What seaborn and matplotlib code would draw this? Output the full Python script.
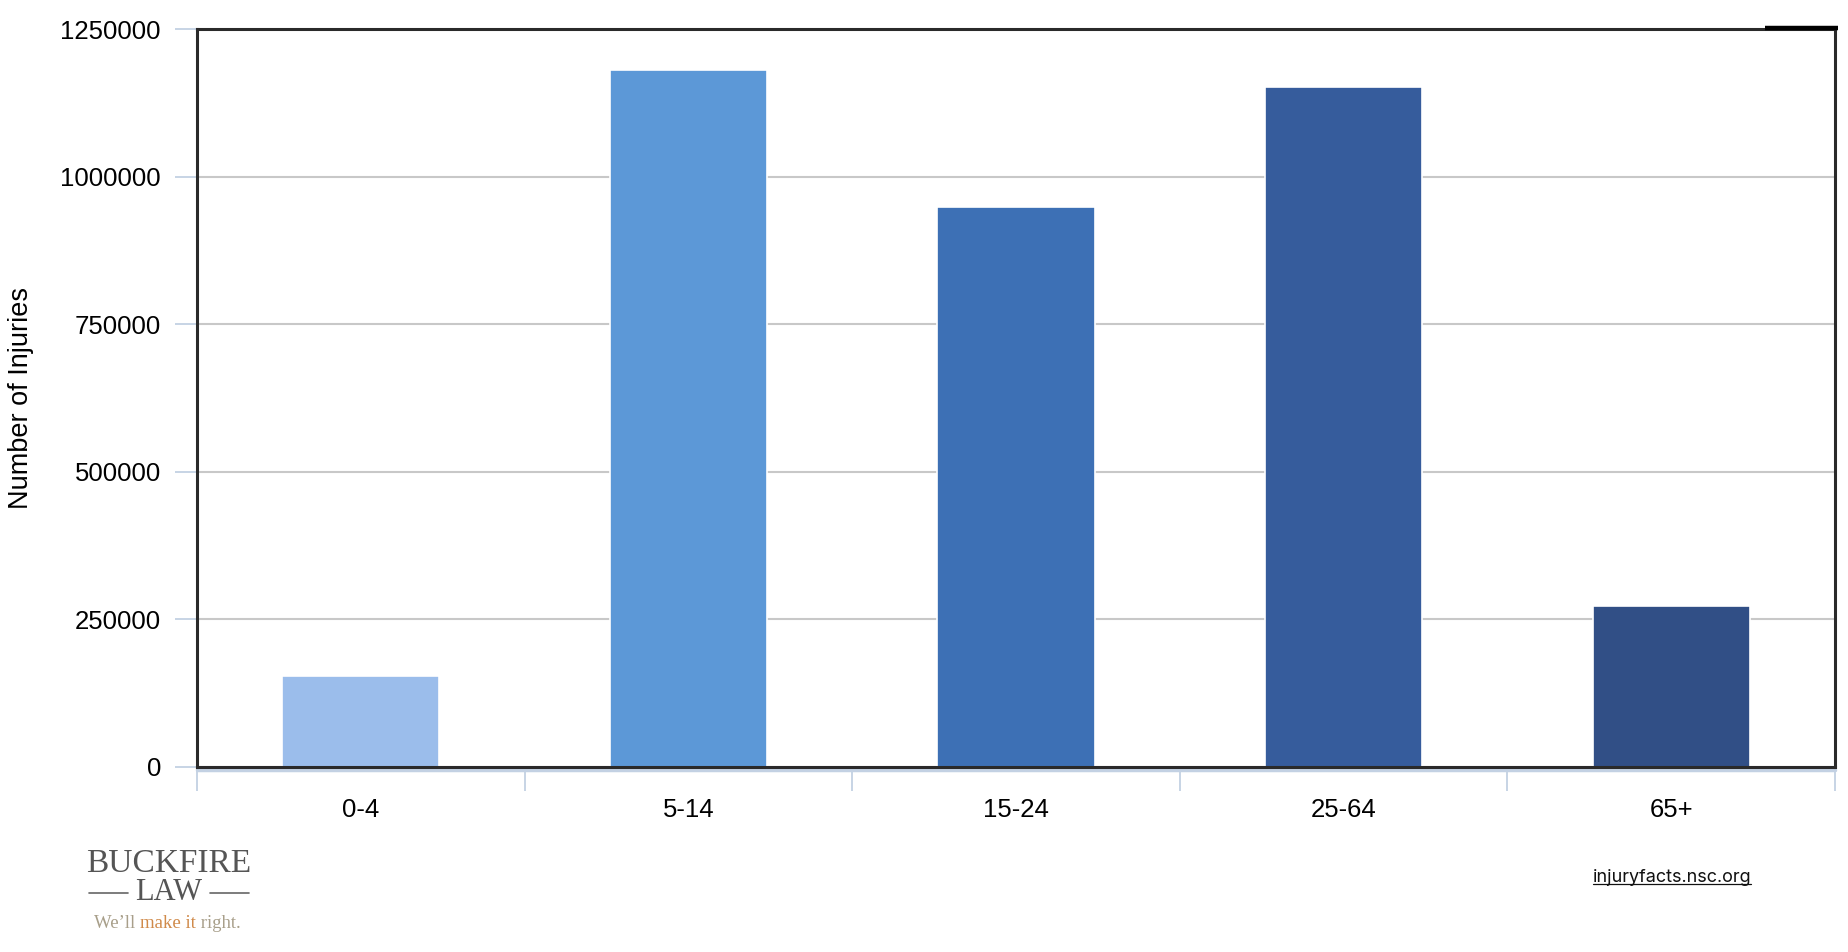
import numpy as np
import matplotlib
matplotlib.use("Agg")
import matplotlib.pyplot as plt
import seaborn as sns
from matplotlib.lines import Line2D

# data
age_groups = ["0-4", "5-14", "15-24", "25-64", "65+"]
injuries = [154000, 1180000, 948000, 1152000, 273000]
bar_colors = ["#9BBDEB", "#5C98D7", "#3D70B5", "#365C9C", "#314F86"]
y_ticks = [0, 250000, 500000, 750000, 1000000, 1250000]

sns.set_theme(style="white")
plt.rcParams["font.family"] = ["Liberation Sans", "DejaVu Sans"]

W, H = 1848, 952
fig = plt.figure(figsize=(W / 100, H / 100), dpi=100)
ax = fig.add_axes([197 / W, 1 - 767 / H, (1835 - 197) / W, (767 - 29) / H])

sns.barplot(x=age_groups, y=injuries, hue=age_groups, palette=bar_colors,
            width=0.48, saturation=1, legend=False, edgecolor="white",
            linewidth=1.2, ax=ax, zorder=3)

ax.set_xlim(-0.5, len(age_groups) - 0.5)
ax.set_ylim(0, 1250000)
ax.set_yticks(y_ticks)
ax.set_yticklabels([str(v) for v in y_ticks])
ax.yaxis.grid(True, color="#c8c8c8", lw=1.5, zorder=0)
ax.xaxis.grid(False)
ax.set_axisbelow(True)

# category boundary ticks (unlabelled) + centred labels
ax.set_xticks(np.arange(-0.5, len(age_groups)), minor=False)
ax.set_xticklabels([""] * (len(age_groups) + 1))
ax.set_xticks(np.arange(len(age_groups)), minor=True)
ax.set_xticklabels(age_groups, minor=True)
ax.tick_params(axis="x", which="major", direction="out", length=17, width=1.3,
               color="#c3d1e3", bottom=True)
ax.tick_params(axis="x", which="minor", length=0, pad=22, labelsize=18.5,
               labelcolor="black")
ax.tick_params(axis="y", direction="out", length=16, width=1.3, color="#c3d1e3",
               pad=10, labelsize=18.5, labelcolor="black", left=True)

for side in ["left", "right", "top", "bottom"]:
    ax.spines[side].set_visible(True)
    ax.spines[side].set_color("#2a2a2a")
    ax.spines[side].set_linewidth(2.2)
    ax.spines[side].set_zorder(5)

# light axis line just under the bottom spine
ax.plot([0, 1], [-0.004, -0.004], transform=ax.transAxes, color="#c3d1e3",
        lw=2.5, clip_on=False, zorder=4)
# small thick corner segment at top right
ax.plot([0.957, 1.002], [1.002, 1.002], transform=ax.transAxes, color="black",
        lw=3.2, clip_on=False, zorder=6, solid_capstyle="butt")

ax.set_xlabel("")
ax.set_ylabel("Number of Injuries", fontsize=19.5, color="black")
ax.yaxis.label.set_va("center")
ax.yaxis.set_label_coords((21 - 197) / (1835 - 197), 0.5)

# logo
serif = ["Liberation Serif", "DejaVu Serif"]
fig.text(169 / W, 1 - 864 / H, "BUCKFIRE", family=serif, fontsize=24,
         color="#555555", ha="center", va="center")
fig.text(169 / W, 1 - 893 / H, "LAW", family=serif, fontsize=22,
         color="#555555", ha="center", va="center")
for x0, x1 in [(89, 128), (210, 249)]:
    fig.add_artist(Line2D([x0 / W, x1 / W], [1 - 893 / H, 1 - 893 / H],
                          color="#666666", lw=1.2))
t1 = fig.text(94 / W, 1 - 924 / H, "We\u2019ll ", family=serif, fontsize=13.5,
              color="#a89f8a", ha="left", va="center")
t2 = ax.annotate("make it", xy=(1, 0), xycoords=t1, family=serif, fontsize=13.5,
                 color="#d08a4a", ha="left", va="bottom", annotation_clip=False)
ax.annotate(" right.", xy=(1, 0), xycoords=t2, family=serif, fontsize=13.5,
            color="#a89f8a", ha="left", va="bottom", annotation_clip=False)

# source
src = fig.text(1672 / W, 1 - 878 / H, "injuryfacts.nsc.org",
               family=["Inter", "DejaVu Sans"], fontsize=13, color="#111111",
               ha="center", va="center")
renderer = fig.canvas.get_renderer()
bb = src.get_window_extent(renderer)
uy = bb.y0 + 3
fig.add_artist(Line2D([bb.x0 / W, bb.x1 / W], [uy / H, uy / H],
                      color="#111111", lw=0.9))

fig.savefig("out.png", dpi=100, facecolor="white")
